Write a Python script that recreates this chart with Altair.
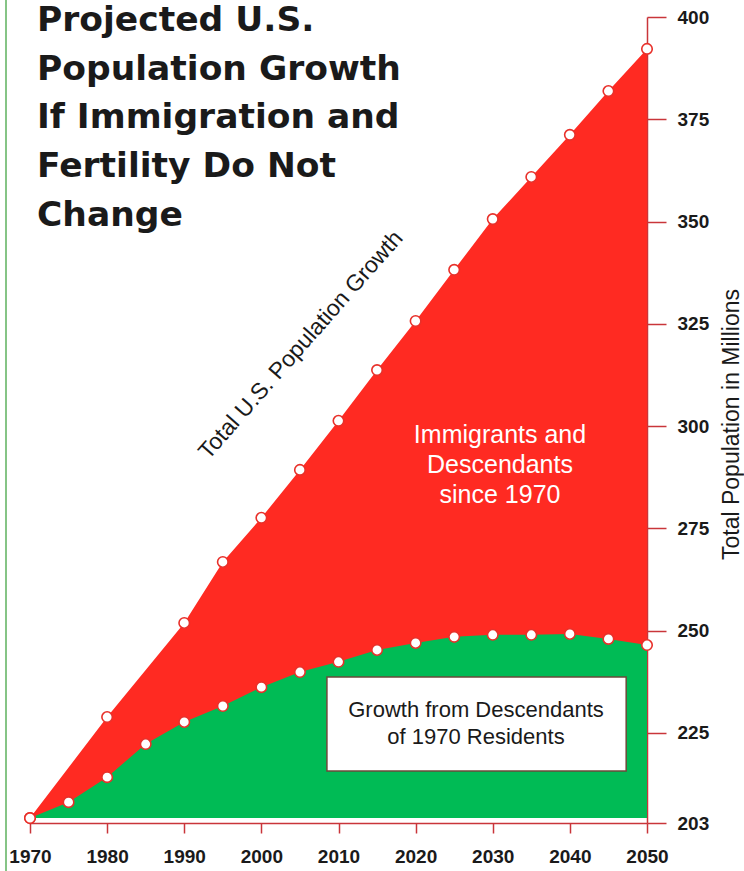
import altair as alt
import pandas as pd

# ---- data ----
total_years = [1970, 1980, 1990, 1995, 2000, 2005, 2010, 2015, 2020, 2025, 2030, 2035, 2040, 2045, 2050]
total_values = [204.2, 228.9, 251.9, 266.8, 277.6, 289.3, 301.3, 313.7, 325.7, 338.2, 350.6, 360.9, 371.2, 381.9, 392.2]

desc_years = [1970, 1975, 1980, 1985, 1990, 1995, 2000, 2005, 2010, 2015, 2020, 2025, 2030, 2035, 2040, 2045, 2050]
desc_values = [204.2, 208.1, 214.2, 222.3, 227.7, 231.6, 236.2, 239.9, 242.4, 245.3, 247.0, 248.5, 249.0, 249.0, 249.2, 248.0, 246.5]

x_ticks = list(range(1970, 2051, 5))
y_ticks = [203, 225, 250, 275, 300, 325, 350, 375, 400]

title_text = "Projected U.S.\nPopulation Growth\nIf Immigration and\nFertility Do Not\nChange"
immig_text = "Immigrants and\nDescendants\nsince 1970"
desc_text = "Growth from Descendants\nof 1970 Residents"
total_text = "Total U.S. Population Growth"
y_title = "Total Population in Millions"

total_df = pd.DataFrame({"year": total_years, "pop": total_values})
desc_df = pd.DataFrame({"year": desc_years, "pop": desc_values})

RED = "#ff2a22"
GREEN = "#00bb55"
AXIS = "#c9353a"
INK = "#1a1a1a"
NARROW = "Liberation Sans Narrow, Arial Narrow, Liberation Sans, sans-serif"
SANS = "Liberation Sans, Arial, Helvetica, sans-serif"

W, H = 617, 806

xscale = alt.Scale(domain=[1970, 2050], nice=False, zero=False)
yscale = alt.Scale(domain=[203, 400], nice=False, zero=False)

x_axis = alt.Axis(
    values=x_ticks, format="d",
    labelExpr="datum.value % 10 == 0 ? datum.label : ''",
    title=None, grid=False, domainColor=AXIS, domainWidth=1.5,
    tickColor=AXIS, tickWidth=1.5, tickSize=10,
    labelFont=NARROW, labelFontSize=19, labelFontWeight="bold",
    labelColor=INK, labelPadding=14, labelFlush=False, labelOverlap=False,
)
y_axis = alt.Axis(
    orient="right", values=y_ticks, title=y_title, grid=False,
    domainColor=AXIS, domainWidth=1.5, tickColor=AXIS, tickWidth=1.5, tickSize=19,
    labelFont=NARROW, labelFontSize=19, labelFontWeight="bold", labelColor=INK,
    labelPadding=11, labelFlush=False, labelOverlap=False,
    titleFont=SANS, titleFontSize=23, titleFontWeight="normal", titleColor=INK,
    titleAngle=270, titleX=84, titleY=407, titleAlign="center", titleBaseline="middle",
)

red_area = alt.Chart(total_df).mark_area(color=RED, opacity=1).encode(
    x=alt.X("year:Q", scale=xscale, axis=x_axis),
    y=alt.Y("pop:Q", scale=yscale, axis=y_axis),
    y2=alt.datum(204.2),
)
green_area = alt.Chart(desc_df).mark_area(color=GREEN, opacity=1).encode(
    x=alt.X("year:Q", scale=xscale),
    y=alt.Y("pop:Q", scale=yscale),
    y2=alt.datum(204.2),
)
pt_style = dict(shape="circle", filled=True, fill="white", stroke="#e8302a",
                strokeWidth=1.6, size=110, opacity=1)
total_pts = alt.Chart(total_df).mark_point(**pt_style).encode(
    x=alt.X("year:Q", scale=xscale), y=alt.Y("pop:Q", scale=yscale))
desc_pts = alt.Chart(desc_df).mark_point(**pt_style).encode(
    x=alt.X("year:Q", scale=xscale), y=alt.Y("pop:Q", scale=yscale))

box = alt.Chart(pd.DataFrame({"a": [0]})).mark_rect(
    fill="white", stroke="#6b4a3a", strokeWidth=1.5
).encode(
    x=alt.datum(2008.5, scale=xscale), x2=alt.datum(2047.3),
    y=alt.datum(238.7, scale=yscale), y2=alt.datum(215.7),
)

title = alt.Chart(pd.DataFrame({"t": [title_text]})).mark_text(
    align="left", baseline="top", lineBreak="\n", lineHeight=48.7,
    font="DejaVu Sans, Verdana, sans-serif", fontSize=34.5, fontWeight="bold", color=INK,
).encode(x=alt.value(7), y=alt.value(-13), text="t:N")

immig = alt.Chart(pd.DataFrame({"t": [immig_text]})).mark_text(
    align="center", baseline="alphabetic", lineBreak="\n", lineHeight=30,
    font=SANS, fontSize=25, color="white",
).encode(x=alt.value(470), y=alt.value(426), text="t:N")

desc_lbl = alt.Chart(pd.DataFrame({"t": [desc_text]})).mark_text(
    align="center", baseline="alphabetic", lineBreak="\n", lineHeight=27,
    font=SANS, fontSize=22, color=INK,
).encode(x=alt.value(446), y=alt.value(700), text="t:N")

total_lbl = alt.Chart(pd.DataFrame({"t": [total_text]})).mark_text(
    align="center", baseline="middle", angle=311.4,
    font=SANS, fontSize=23, color=INK,
).encode(x=alt.value(271), y=alt.value(328), text="t:N")

left_line = alt.Chart(pd.DataFrame({"a": [0]})).mark_rule(
    color="#86c486", strokeWidth=2
).encode(x=alt.value(-24), y=alt.value(-17), y2=alt.value(854))

chart = alt.layer(
    red_area, green_area, total_pts, desc_pts, box, title, immig, desc_lbl, total_lbl, left_line
).properties(
    width=W, height=H,
    autosize=alt.AutoSizeParams(type="none"),
    padding={"left": 30, "top": 17, "right": 744 - 30 - W, "bottom": 871 - 17 - H},
    background="white",
).configure_view(stroke=None)

chart.save("out.html", embed_options={"renderer": "svg", "actions": False})
